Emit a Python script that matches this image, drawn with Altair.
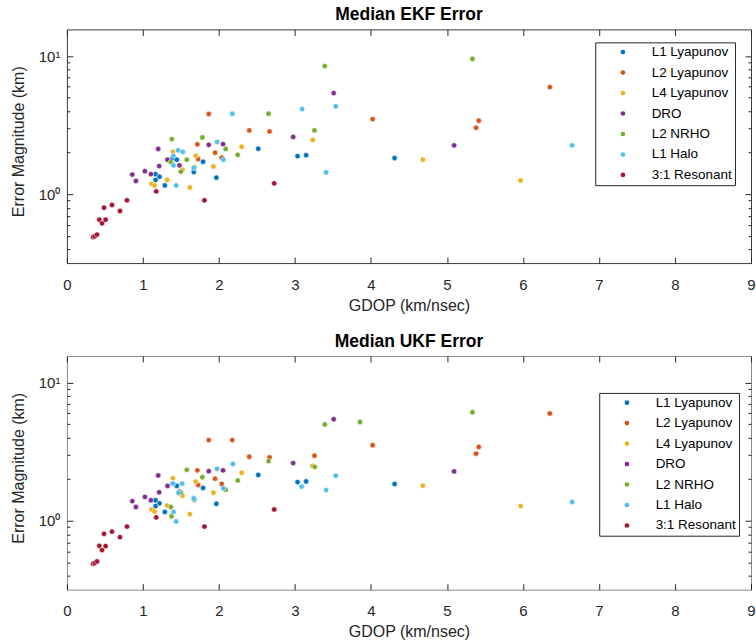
import altair as alt
import pandas as pd

series = ["L1 Lyapunov", "L2 Lyapunov", "L4 Lyapunov", "DRO", "L2 NRHO", "L1 Halo", "3:1 Resonant"]
colors = ["#0072BD", "#D95319", "#EDB120", "#7E2F8E", "#77AC30", "#4DBEEE", "#A2142F"]

# ---------------- Median EKF Error ----------------
ekf_l1lyap_x = [1.166, 1.218, 1.166, 1.288, 1.389, 1.446, 1.669, 1.791, 1.966, 2.517, 3.034, 3.147, 4.311]
ekf_l1lyap_y = [1.40, 1.34, 1.27, 1.16, 1.82, 1.78, 1.45, 1.72, 1.32, 2.14, 1.89, 1.92, 1.83]
ekf_l2lyap_x = [1.866, 1.716, 1.726, 1.949, 2.037, 2.399, 2.666, 4.022, 5.383, 5.418, 6.354]
ekf_l2lyap_y = [3.81, 2.30, 1.80, 2.00, 1.84, 2.90, 2.85, 3.50, 3.03, 3.41, 5.97]
ekf_l4lyap_x = [1.113, 1.152, 1.319, 1.394, 1.520, 1.617, 1.695, 1.927, 2.299, 3.235, 4.683, 5.969]
ekf_l4lyap_y = [1.19, 1.16, 1.27, 2.03, 1.51, 1.12, 1.90, 1.59, 2.21, 2.48, 1.78, 1.26]
ekf_dro_x = [0.860, 0.908, 1.026, 1.105, 1.201, 1.214, 1.323, 1.481, 1.866, 2.054, 2.977, 3.510, 5.094]
ekf_dro_y = [1.39, 1.25, 1.47, 1.40, 2.13, 1.60, 1.78, 1.62, 2.28, 2.31, 2.60, 5.40, 2.26]
ekf_nrho_x = [1.380, 1.367, 1.577, 1.499, 1.677, 1.782, 2.089, 2.247, 2.653, 3.392, 3.257, 5.335]
ekf_nrho_y = [2.51, 1.71, 1.78, 1.46, 1.57, 2.58, 2.13, 1.93, 3.83, 8.47, 2.90, 9.56]
ekf_halo_x = [2.176, 1.402, 1.463, 1.525, 1.402, 1.437, 1.669, 1.975, 2.058, 3.094, 3.537, 3.410, 6.647]
ekf_halo_y = [3.83, 1.90, 2.08, 2.03, 1.62, 1.16, 1.55, 2.39, 1.78, 4.14, 4.33, 1.44, 2.26]
ekf_res_x = [0.344, 0.365, 0.396, 0.426, 0.462, 0.509, 0.488, 0.593, 0.698, 0.790, 1.175, 1.809, 2.727]
ekf_res_y = [0.491, 0.497, 0.511, 0.655, 0.617, 0.655, 0.800, 0.837, 0.757, 0.905, 1.05, 0.905, 1.20]

# ---------------- Median UKF Error ----------------
ukf_l1lyap_x = [1.166, 1.218, 1.166, 1.288, 1.389, 1.446, 1.669, 1.791, 1.966, 2.517, 3.034, 3.147, 4.311]
ukf_l1lyap_y = [1.41, 1.34, 1.28, 1.16, 1.86, 1.79, 1.46, 1.73, 1.33, 2.15, 1.91, 1.93, 1.85]
ukf_l2lyap_x = [1.866, 2.176, 1.716, 1.726, 1.949, 2.037, 2.399, 2.666, 3.257, 4.022, 5.383, 5.418, 6.354]
ukf_l2lyap_y = [3.84, 3.84, 2.32, 1.82, 2.02, 1.85, 2.91, 2.88, 2.96, 3.53, 3.06, 3.43, 5.98]
ukf_l4lyap_x = [1.113, 1.152, 1.319, 1.394, 1.520, 1.617, 1.695, 1.927, 2.299, 3.231, 4.683, 5.969]
ukf_l4lyap_y = [1.21, 1.17, 1.29, 2.04, 1.52, 1.12, 1.92, 1.60, 2.23, 2.50, 1.80, 1.28]
ukf_dro_x = [0.860, 0.908, 1.026, 1.105, 1.201, 1.214, 1.323, 1.481, 1.866, 2.054, 2.977, 3.510, 5.094]
ukf_dro_y = [1.39, 1.26, 1.49, 1.41, 2.13, 1.61, 1.79, 1.63, 2.29, 2.32, 2.62, 5.44, 2.28]
ukf_nrho_x = [1.577, 1.782, 1.367, 1.376, 1.499, 1.677, 2.089, 2.247, 2.653, 3.392, 3.856, 3.261, 5.335]
ukf_nrho_y = [2.34, 2.07, 1.26, 1.08, 1.60, 1.42, 1.68, 1.96, 2.71, 4.98, 5.20, 2.46, 6.11]
ukf_halo_x = [1.399, 1.468, 1.516, 1.402, 1.437, 1.669, 1.975, 2.058, 2.184, 3.088, 3.537, 3.410, 6.647]
ukf_halo_y = [1.86, 1.60, 1.86, 1.16, 0.99, 1.45, 2.38, 1.72, 2.58, 1.77, 2.12, 1.67, 1.37]
ukf_res_x = [0.344, 0.365, 0.396, 0.426, 0.462, 0.509, 0.488, 0.593, 0.698, 0.790, 1.175, 1.809, 2.727]
ukf_res_y = [0.490, 0.495, 0.509, 0.660, 0.615, 0.657, 0.806, 0.837, 0.763, 0.910, 1.06, 0.910, 1.21]

x_ticks = [0, 1, 2, 3, 4, 5, 6, 7, 8, 9]
y_major = [1, 10]
y_minor = [0.4, 0.5, 0.6, 0.7, 0.8, 0.9, 2, 3, 4, 5, 6, 7, 8, 9]


def frame(pairs):
    rows = []
    for name, (xs, ys) in zip(series, pairs):
        for gx, gy in zip(xs, ys):
            rows.append({"series": name, "gdop": gx, "err": gy})
    return pd.DataFrame(rows)


ekf = frame([(ekf_l1lyap_x, ekf_l1lyap_y), (ekf_l2lyap_x, ekf_l2lyap_y), (ekf_l4lyap_x, ekf_l4lyap_y),
             (ekf_dro_x, ekf_dro_y), (ekf_nrho_x, ekf_nrho_y), (ekf_halo_x, ekf_halo_y), (ekf_res_x, ekf_res_y)])
ukf = frame([(ukf_l1lyap_x, ukf_l1lyap_y), (ukf_l2lyap_x, ukf_l2lyap_y), (ukf_l4lyap_x, ukf_l4lyap_y),
             (ukf_dro_x, ukf_dro_y), (ukf_nrho_x, ukf_nrho_y), (ukf_halo_x, ukf_halo_y), (ukf_res_x, ukf_res_y)])

W = 685
H = 234
FONT = "Liberation Sans"
INK = "#262626"

xscale = alt.Scale(domain=[0, 9], nice=False, zero=False)
yscale = alt.Scale(type="log", domain=[0.318, 15.6], nice=False)


def tick_axis(orient, values, size, off):
    return alt.Axis(orient=orient, offset=-off, values=values, labels=False, domain=False,
                    grid=False, ticks=True, tickSize=size, tickColor=INK, tickWidth=1, title=None)


def panel(df, title, lx, ly, stroke):
    base = alt.Chart(df)
    pts = base.mark_circle(size=28, opacity=1, stroke="white", strokeWidth=0.5).encode(
        x=alt.X("gdop:Q", scale=xscale,
                axis=alt.Axis(orient="bottom", values=x_ticks, ticks=False, tickSize=0, domain=False,
                              grid=False, labelPadding=14, labelFlush=False, labelOverlap=False,
                              labelFontSize=15, labelFont=FONT, labelColor=INK,
                              title="GDOP (km/nsec)", titleFontSize=16, titleFont=FONT,
                              titleFontWeight="normal", titleColor=INK, titlePadding=5)),
        y=alt.Y("err:Q", scale=yscale,
                axis=alt.Axis(orient="left", values=y_major, ticks=False, tickSize=0, domain=False,
                              grid=False, labelPadding=7, labelFontSize=15, labelFont=FONT,
                              labelColor=INK, labelExpr="datum.value == 1 ? '10⁰' : '10¹'",
                              title="Error Magnitude (km)", titleFontSize=16, titleFont=FONT,
                              titleFontWeight="normal", titleColor=INK, titleAngle=270,
                              titleBaseline="bottom", titleAlign="center", titleX=-40, titleY=H / 2 - 5)),
        color=alt.Color("series:N", scale=alt.Scale(domain=series, range=colors),
                        legend=alt.Legend(title=None, orient="none", legendX=lx, legendY=ly,
                                          symbolType="circle", symbolSize=22, symbolStrokeWidth=0,
                                          labelFontSize=13.5, labelFont=FONT, labelColor="black",
                                          strokeColor=INK, fillColor="white", padding=3,
                                          rowPadding=5.5, symbolOffset=18, labelOffset=22,
                                          cornerRadius=0)),
    )
    inv = base.mark_circle(opacity=0)
    l2 = inv.encode(x=alt.X("gdop:Q", scale=xscale, axis=tick_axis("top", x_ticks, 6, H)),
                    y=alt.Y("err:Q", scale=yscale, axis=tick_axis("right", y_major, 6, W)))
    l3 = inv.encode(x=alt.X("gdop:Q", scale=xscale, axis=tick_axis("bottom", x_ticks, 6, H)),
                    y=alt.Y("err:Q", scale=yscale, axis=tick_axis("left", y_major, 6, W)))
    l4 = inv.encode(x=alt.X("gdop:Q", scale=xscale, axis=None),
                    y=alt.Y("err:Q", scale=yscale, axis=tick_axis("right", y_minor, 3, W)))
    l5 = inv.encode(x=alt.X("gdop:Q", scale=xscale, axis=None),
                    y=alt.Y("err:Q", scale=yscale, axis=tick_axis("left", y_minor, 3, W)))
    return alt.layer(pts, l2, l3, l4, l5).resolve_axis(x="independent", y="independent").properties(
        width=W, height=H,
        view=alt.ViewBackground(stroke=stroke, strokeWidth=1),
        title=alt.TitleParams(title, fontSize=17.5, fontWeight="bold", font=FONT, color="black",
                              anchor="middle", baseline="bottom", offset=-13),
    )


top = panel(ekf, "Median EKF Error", 529, 13, "#3a3a3a")
bottom = panel(ukf, "Median UKF Error", 533, 37, "#8a8a8a")

chart = alt.vconcat(top, bottom, spacing=93, bounds="flush").resolve_legend(color="independent").properties(
    padding={"left": 10, "top": 5, "right": 0, "bottom": 0},
    background="white",
).configure_view(stroke=INK)

chart.save("out.html", embed_options={"renderer": "svg", "actions": False})
